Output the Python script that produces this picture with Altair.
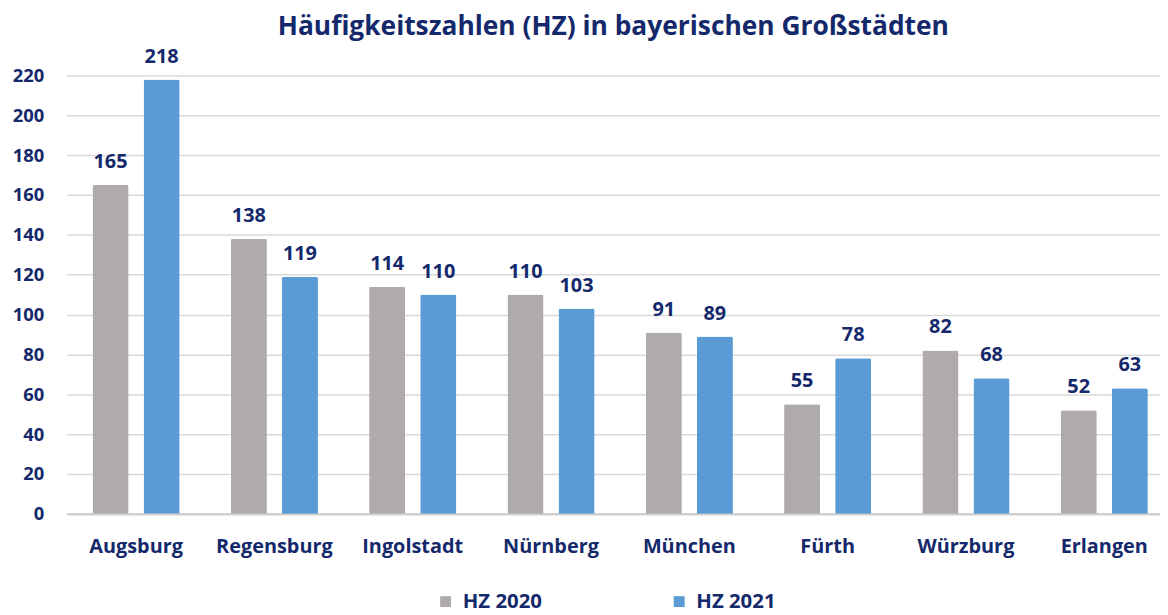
import altair as alt
import pandas as pd

cities = ["Augsburg", "Regensburg", "Ingolstadt", "Nürnberg", "München", "Fürth", "Würzburg", "Erlangen"]
hz2020 = [165, 138, 114, 110, 91, 55, 82, 52]
hz2021 = [218, 119, 110, 103, 89, 78, 68, 63]
series = ["HZ 2020", "HZ 2021"]
y_ticks = list(range(0, 221, 20))

rows = []
for c, a, b in zip(cities, hz2020, hz2021):
    rows.append({"Stadt": c, "Reihe": series[0], "HZ": a})
    rows.append({"Stadt": c, "Reihe": series[1], "HZ": b})
df = pd.DataFrame(rows)

NAVY = "#14296b"
FONT = "Open Sans"

x = alt.X("Stadt:N", sort=cities, title=None,
          scale=alt.Scale(paddingInner=0.37, paddingOuter=0.1375, align=0.68),
          axis=alt.Axis(labelAngle=0, labelFontSize=20, labelFontWeight="bold", labelColor=NAVY,
                        labelFont=FONT, labelPadding=23, ticks=False, domainColor="#d0d0d0",
                        domainWidth=2.5, grid=False))
xo = alt.XOffset("Reihe:N", sort=series, scale=alt.Scale(paddingInner=0.294, paddingOuter=0))
y = alt.Y("HZ:Q", title=None,
          scale=alt.Scale(domain=[0, 220], nice=False),
          axis=alt.Axis(values=y_ticks, labelFontSize=18.5, labelFontWeight="bold", labelColor=NAVY,
                        labelFont=FONT, labelPadding=23, ticks=False, domain=False,
                        gridColor="#d9d9d9", gridWidth=1.5))
color = alt.Color("Reihe:N", sort=series,
                  scale=alt.Scale(domain=series, range=["#afabab", "#5b9bd5"]),
                  legend=alt.Legend(title=None, orient="none", direction="horizontal",
                                    legendX=371, legendY=519, symbolType="square", symbolSize=120,
                                    symbolStrokeWidth=0, columnPadding=127, labelFontSize=20.5,
                                    labelFontWeight="bold", labelColor=NAVY, labelFont=FONT,
                                    labelOffset=7))

bars = alt.Chart(df).mark_bar(cornerRadiusTopLeft=2, cornerRadiusTopRight=2).encode(
    x=x, xOffset=xo, y=y, color=color)
labels = alt.Chart(df).mark_text(baseline="alphabetic", dy=-17, fontSize=20, fontWeight="bold",
                                 color=NAVY, font=FONT).encode(
    x=x, xOffset=xo, y=y, text=alt.Text("HZ:Q"))

chart = alt.layer(bars, labels).properties(
    width=1100, height=441,
    title=alt.Title("Häufigkeitszahlen (HZ) in bayerischen Großstädten", fontSize=26.5,
                    fontWeight="bold", color=NAVY, font=FONT, offset=6, anchor="middle"),
    padding={"left": 4, "top": 4, "right": 0, "bottom": 0},
).configure_view(stroke=None)

chart.save("out.html", embed_options={"renderer": "svg", "actions": False})
